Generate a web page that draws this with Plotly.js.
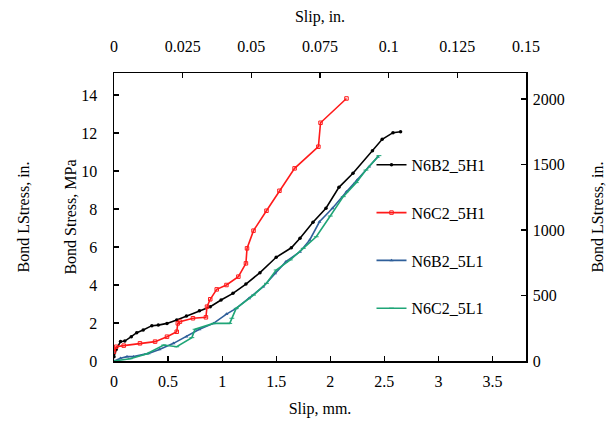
<!DOCTYPE html>
<html>
<head>
<meta charset="utf-8">
<script src="https://cdn.plot.ly/plotly-3.0.1.min.js"></script>
<style>html,body{margin:0;padding:0;background:#fff;}#chart{width:613px;height:423px;}</style>
</head>
<body>
<div id="chart"></div>
<script>
// Slip (mm) and bond stress (MPa)
const n6b2_5h1_slip = [0.00, 0.02, 0.06, 0.10, 0.16, 0.21, 0.27, 0.35, 0.41, 0.49, 0.58, 0.67, 0.79, 0.89, 0.99, 1.10, 1.22, 1.35, 1.50, 1.64, 1.72, 1.84, 1.96, 2.08, 2.21, 2.39, 2.48, 2.58, 2.65];
const n6b2_5h1_stress = [0.23, 0.60, 1.02, 1.05, 1.28, 1.49, 1.63, 1.86, 1.89, 1.98, 2.16, 2.37, 2.65, 2.86, 3.21, 3.56, 4.05, 4.65, 5.46, 5.96, 6.46, 7.30, 8.04, 9.14, 9.88, 11.07, 11.67, 12.02, 12.07];

const n6c2_5h1_slip = [0.00, 0.02, 0.09, 0.24, 0.38, 0.49, 0.58, 0.59, 0.61, 0.73, 0.85, 0.86, 0.89, 0.95, 1.04, 1.15, 1.22, 1.23, 1.29, 1.41, 1.53, 1.67, 1.89, 1.91, 2.15];
const n6c2_5h1_stress = [0.49, 0.75, 0.81, 0.93, 1.02, 1.28, 1.54, 1.98, 2.07, 2.25, 2.30, 2.86, 3.25, 3.77, 4.00, 4.44, 5.14, 5.93, 6.86, 7.91, 8.96, 10.14, 11.28, 12.54, 13.82];

const n6b2_5l1_slip = [0.00, 0.06, 0.12, 0.18, 0.32, 0.42, 0.55, 0.67, 0.79, 0.92, 1.04, 1.13, 1.25, 1.38, 1.49, 1.59, 1.72, 1.81, 1.90, 2.02, 2.15, 2.25, 2.36, 2.44];
const n6b2_5l1_stress = [0.00, 0.14, 0.23, 0.23, 0.40, 0.61, 0.93, 1.28, 1.67, 1.98, 2.47, 2.77, 3.30, 3.91, 4.61, 5.23, 5.75, 6.37, 7.33, 8.04, 8.91, 9.53, 10.23, 10.75];

const n6c2_5l1_slip = [0.00, 0.15, 0.30, 0.46, 0.58, 0.72, 0.75, 0.92, 1.07, 1.09, 1.13, 1.29, 1.41, 1.50, 1.63, 1.75, 1.87, 2.00, 2.12, 2.24, 2.33, 2.45];
const n6c2_5l1_stress = [0.00, 0.12, 0.37, 0.84, 0.75, 1.23, 1.67, 1.98, 1.98, 2.25, 2.77, 3.47, 4.09, 4.79, 5.32, 5.93, 6.54, 7.63, 8.65, 9.39, 10.05, 10.81];

const seriesNames = ["N6B2_5H1", "N6C2_5H1", "N6B2_5L1", "N6C2_5L1"];
const seriesColors = ["#000000", "#ff1a1a", "#2f5f9a", "#1fa577"];

const bottomTicks = [0, 0.5, 1, 1.5, 2, 2.5, 3, 3.5];
const topTicks = [0, 0.025, 0.05, 0.075, 0.1, 0.125, 0.15];
const leftTicks = [0, 2, 4, 6, 8, 10, 12, 14];
const rightTicks = [0, 500, 1000, 1500, 2000];

const FONT = "Liberation Serif, Times New Roman, serif";
const MM_MAX = 3.81, MPA_MAX = 15.16;

function tr(x, y, i, sym) {
  return {
    x: x, y: y, name: seriesNames[i], type: "scatter", mode: "lines+markers",
    line: {color: seriesColors[i], width: 1.6},
    marker: {color: seriesColors[i], size: 3.5, symbol: sym},
    legendgroup: "g" + i, xaxis: "x", yaxis: "y"
  };
}
const data = [
  tr(n6b2_5h1_slip, n6b2_5h1_stress, 0, "circle"),
  tr(n6c2_5h1_slip, n6c2_5h1_stress, 1, "square-open"),
  tr(n6b2_5l1_slip, n6b2_5l1_stress, 2, "triangle-up"),
  tr(n6c2_5l1_slip, n6c2_5l1_stress, 3, "line-ew-open"),
  {x: [], y: [], xaxis: "x2", yaxis: "y2", showlegend: false, hoverinfo: "skip", type: "scatter", mode: "lines"}
];

const axCommon = {
  showgrid: false, zeroline: false, showline: true, linecolor: "#000", linewidth: 1.5,
  ticks: "inside", ticklen: 5, tickwidth: 1.2, tickcolor: "#000",
  tickfont: {family: FONT, size: 16, color: "#000"}
};

const layout = {
  width: 613, height: 423,
  margin: {l: 114, r: 87, t: 73, b: 62},
  paper_bgcolor: "#fff", plot_bgcolor: "#fff",
  font: {family: FONT, size: 16, color: "#000"},
  showlegend: true,
  legend: {x: 0.625, y: 0.74, xanchor: "left", yanchor: "top", bgcolor: "rgba(0,0,0,0)",
           font: {family: FONT, size: 16, color: "#000"}, tracegroupgap: 24, traceorder: "grouped"},
  xaxis: Object.assign({}, axCommon, {range: [0, MM_MAX], tickvals: bottomTicks, ticktext: bottomTicks.map(String),
           ticklabelstandoff: 5,
           title: {text: "Slip, mm.", font: {family: FONT, size: 16}, standoff: 14}}),
  xaxis2: Object.assign({}, axCommon, {range: [0, MM_MAX / 25.4], overlaying: "x", side: "top", anchor: "y",
           tickvals: topTicks, ticktext: topTicks.map(String), ticklabelstandoff: 13,
           title: {text: "Slip, in.", font: {family: FONT, size: 16}, standoff: 11}}),
  yaxis: Object.assign({}, axCommon, {range: [0, MPA_MAX], tickvals: leftTicks, ticktext: leftTicks.map(String),
           ticklabelstandoff: 12,
           title: {text: "Bond Stress, MPa", font: {family: FONT, size: 16}, standoff: 0}}),
  yaxis2: Object.assign({}, axCommon, {range: [0, MPA_MAX * 145.038], overlaying: "y", side: "right", anchor: "x",
           tickvals: rightTicks, ticktext: rightTicks.map(String), ticklabelstandoff: 2,
           title: {text: "Bond LStress, in.", font: {family: FONT, size: 16}, standoff: 28}}),
  annotations: [
    {text: "Bond LStress, in.", xref: "paper", yref: "paper", x: -0.222, y: 0.5, xanchor: "center", yanchor: "middle",
     textangle: -90, showarrow: false, font: {family: FONT, size: 16, color: "#000"}}
  ]
};

Plotly.newPlot("chart", data, layout, {displayModeBar: false, staticPlot: true});
</script>
</body>
</html>
